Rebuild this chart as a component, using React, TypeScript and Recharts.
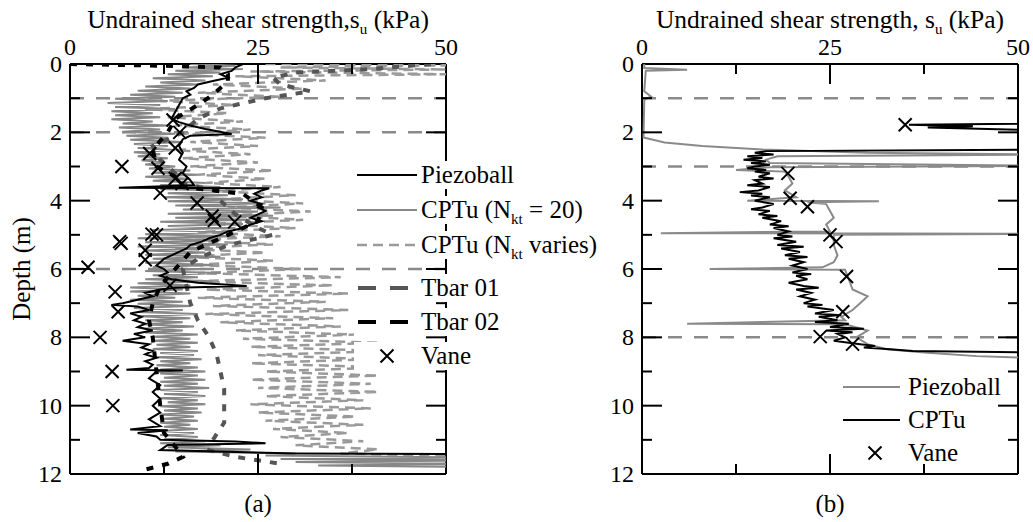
import React from 'react';
import { ScatterChart, Scatter, XAxis, YAxis, ReferenceLine } from 'recharts';

const FONT = "'Liberation Serif', 'Times New Roman', Times, serif";

// ---------- Panel (a) data: [depth (m), su (kPa)] ----------
const piezoA: [number, number][] = [
  [0.0, 23], [0.1, 22], [0.2, 21.5], [0.3, 20], [0.4, 21], [0.5, 19], [0.6, 17], [0.7, 16.5], [0.8, 15.5], [0.9, 16],
  [1.0, 15], [1.2, 14.5], [1.4, 14], [1.6, 13.5], [1.7, 14.5], [1.8, 16], [1.9, 18], [2.05, 21.5], [2.1, 16], [2.2, 15],
  [2.4, 14.5], [2.6, 15], [2.8, 14.5], [3.0, 15.5], [3.2, 15], [3.4, 16], [3.55, 16.5], [3.62, 6.5], [3.64, 26.5], [3.7, 25.5],
  [3.8, 24.5], [3.9, 25.5], [4.0, 24], [4.1, 25.5], [4.2, 25], [4.3, 26], [4.4, 25], [4.5, 24], [4.6, 25.5], [4.7, 24],
  [4.8, 23], [4.9, 21], [5.0, 20], [5.1, 18.5], [5.2, 17.5], [5.3, 16], [5.4, 15.5], [5.5, 14.5], [5.6, 13.5], [5.7, 12.5],
  [5.8, 12], [5.9, 11.5], [6.0, 12.5], [6.1, 13], [6.2, 12], [6.3, 13.5], [6.4, 17], [6.5, 23.5], [6.55, 14], [6.6, 12],
  [6.7, 10], [6.8, 11], [6.9, 9], [7.0, 7], [7.05, 5.5], [7.1, 9], [7.2, 10.5], [7.3, 8], [7.4, 9.5], [7.5, 8.5],
  [7.6, 10], [7.7, 9], [7.8, 11], [7.9, 8.5], [8.0, 10], [8.1, 7], [8.2, 10.5], [8.3, 9.5], [8.4, 11], [8.5, 10],
  [8.6, 11.5], [8.7, 10], [8.8, 11], [8.9, 10.5], [8.95, 7.5], [8.97, 15], [9.0, 11.5], [9.2, 10.5], [9.4, 12], [9.6, 11],
  [9.8, 12], [10.0, 11], [10.2, 12], [10.4, 10.5], [10.6, 12], [10.7, 8], [10.72, 13], [10.8, 9], [10.9, 11.5], [11.0, 12],
  [11.05, 22], [11.1, 26], [11.15, 13], [11.3, 12], [11.4, 30], [11.42, 55],
];

const cptu20A: [number, number][] = [
  [0.0, 16], [0.05, 22], [0.1, 15], [0.15, 23], [0.2, 14], [0.25, 20], [0.3, 13], [0.36, 19], [0.42, 11], [0.48, 18],
  [0.54, 12], [0.6, 17], [0.66, 10], [0.72, 16], [0.78, 9], [0.84, 15], [0.9, 8], [0.96, 14], [1.02, 6], [1.08, 13],
  [1.14, 5], [1.2, 12], [1.26, 6], [1.32, 14], [1.38, 5.5], [1.44, 11], [1.5, 6], [1.56, 12], [1.62, 5.5], [1.68, 11],
  [1.74, 7], [1.8, 13], [1.86, 6.5], [1.92, 12], [1.98, 7], [2.04, 14], [2.1, 7.5], [2.16, 13], [2.22, 8], [2.28, 15],
  [2.34, 8.5], [2.4, 13], [2.46, 9], [2.52, 14], [2.58, 8.5], [2.64, 12], [2.7, 9], [2.76, 13], [2.82, 9.5], [2.88, 12.5],
  [2.94, 10], [3.0, 14], [3.06, 10.5], [3.12, 16], [3.18, 11], [3.24, 17], [3.3, 10], [3.36, 16], [3.42, 11], [3.48, 18],
  [3.54, 12], [3.6, 20], [3.66, 12], [3.72, 22], [3.78, 13], [3.84, 21], [3.9, 12.5], [3.96, 23], [4.02, 13], [4.08, 26],
  [4.14, 14], [4.2, 28], [4.26, 15], [4.32, 25], [4.38, 13], [4.44, 27], [4.5, 14], [4.56, 24], [4.62, 12], [4.68, 23],
  [4.74, 13], [4.8, 22], [4.86, 11], [4.92, 21], [4.98, 10], [5.04, 22], [5.1, 9], [5.16, 20], [5.22, 10], [5.28, 21],
  [5.34, 9], [5.4, 19], [5.46, 10], [5.52, 18], [5.58, 10], [5.64, 20], [5.7, 11], [5.76, 17], [5.82, 10], [5.88, 19],
  [5.94, 11], [6.0, 18], [6.06, 10], [6.12, 20], [6.18, 11], [6.24, 17], [6.3, 10], [6.36, 19], [6.42, 9], [6.48, 16],
  [6.54, 8], [6.6, 15], [6.66, 8], [6.72, 16], [6.78, 9], [6.84, 14], [6.9, 8], [6.96, 15], [7.02, 9], [7.08, 16],
  [7.14, 8.5], [7.2, 15], [7.26, 9], [7.32, 17], [7.38, 9], [7.44, 16], [7.5, 10], [7.56, 15], [7.62, 9.5], [7.68, 16.5],
  [7.74, 10], [7.8, 15], [7.86, 10], [7.92, 17], [7.98, 11], [8.04, 16], [8.1, 11], [8.16, 17], [8.22, 11.5], [8.28, 16],
  [8.34, 11], [8.4, 17], [8.46, 12], [8.52, 16.5], [8.58, 11.5], [8.64, 17.5], [8.7, 12], [8.76, 16], [8.82, 11.5], [8.88, 17],
  [8.94, 12], [9.0, 18], [9.06, 12], [9.12, 17], [9.18, 12.5], [9.24, 18], [9.3, 12], [9.36, 17], [9.42, 12.5], [9.48, 18.5],
  [9.54, 12], [9.6, 17], [9.66, 12.5], [9.72, 18], [9.78, 12], [9.84, 17], [9.9, 13], [9.96, 18], [10.02, 12], [10.08, 17],
  [10.14, 12.5], [10.2, 17.5], [10.26, 12], [10.32, 16.5], [10.38, 12.5], [10.44, 17], [10.5, 12], [10.56, 16], [10.62, 12.5], [10.68, 17],
  [10.74, 12], [10.8, 16.5], [10.86, 12], [10.92, 17], [10.98, 12.5], [11.04, 18], [11.1, 12], [11.16, 20], [11.22, 13], [11.28, 24],
  [11.34, 14], [11.4, 30], [11.46, 26], [11.52, 55], [11.56, 28], [11.6, 55], [11.65, 30], [11.7, 55], [11.75, 33], [11.8, 55],
];

const cptuVarA: [number, number][] = [
  [0.0, 26], [0.04, 50], [0.1, 28], [0.16, 50], [0.22, 24], [0.3, 50], [0.36, 22], [0.48, 34], [0.6, 19], [0.72, 31],
  [0.84, 17], [0.96, 28], [1.08, 12], [1.2, 22], [1.32, 10], [1.44, 21], [1.56, 13], [1.68, 23], [1.8, 14], [1.92, 24],
  [2.04, 15], [2.16, 26], [2.28, 16], [2.4, 25], [2.52, 14], [2.64, 24], [2.76, 15], [2.88, 25], [3.0, 16], [3.12, 27],
  [3.24, 17], [3.36, 26], [3.48, 18], [3.6, 28], [3.72, 19], [3.84, 30], [3.96, 20], [4.08, 31], [4.2, 21], [4.32, 32],
  [4.44, 20], [4.56, 31], [4.68, 19], [4.8, 30], [4.92, 17], [5.04, 28], [5.16, 15], [5.28, 27], [5.4, 14], [5.52, 26],
  [5.64, 15], [5.76, 27], [5.88, 16], [6.0, 31], [6.12, 17], [6.24, 36], [6.36, 16], [6.48, 35], [6.6, 18], [6.72, 37],
  [6.84, 17], [6.96, 34], [7.08, 19], [7.2, 37], [7.32, 18], [7.44, 35], [7.56, 20], [7.68, 36], [7.8, 22], [7.92, 38],
  [8.04, 23], [8.16, 41], [8.28, 24], [8.4, 42], [8.52, 25], [8.64, 40], [8.76, 24], [8.88, 42], [9.0, 26], [9.12, 41],
  [9.24, 24], [9.36, 40], [9.48, 25], [9.6, 41], [9.72, 26], [9.84, 39], [9.96, 24], [10.08, 40], [10.2, 25], [10.32, 38],
  [10.44, 26], [10.56, 39], [10.68, 27], [10.8, 37], [10.92, 28], [11.04, 39], [11.16, 30], [11.28, 41], [11.4, 36], [11.5, 55],
];

const tbar01A: [number, number][] = [
  [0.0, 48], [0.15, 40], [0.25, 30], [0.4, 27], [0.6, 28], [0.8, 32], [1.0, 26], [1.3, 20], [1.6, 17], [2.0, 15],
  [2.4, 11], [2.8, 12], [3.2, 14], [3.5, 15], [3.7, 19.5], [4.0, 20], [4.4, 22], [4.8, 25], [5.0, 27], [5.3, 21],
  [5.7, 17], [6.0, 15], [6.5, 15.5], [7.0, 16], [7.5, 17], [8.0, 18.5], [8.5, 19.5], [9.0, 20], [9.5, 20.5], [10.0, 20.5],
  [10.5, 20.5], [11.0, 19], [11.3, 18.5], [11.5, 22], [11.7, 28],
];

const tbar02A: [number, number][] = [
  [0.0, 0], [0.05, 12], [0.1, 20], [0.3, 21], [0.5, 21], [0.7, 20], [0.9, 19], [1.2, 17], [1.6, 14], [2.0, 13],
  [2.5, 11], [3.0, 11.5], [3.3, 14], [3.6, 15], [3.8, 23], [4.2, 25.5], [4.6, 25], [5.0, 21], [5.5, 16], [6.0, 14],
  [6.5, 12], [7.0, 11], [7.5, 10.5], [8.0, 11], [9.0, 11.5], [10.0, 12], [10.8, 12.5], [11.2, 14], [11.5, 15], [11.7, 13],
  [11.9, 9.5],
];

const vaneA: [number, number][] = [
  [1.64, 13.7], [2.0, 14.6], [2.46, 14], [2.62, 10.6], [3.0, 6.9], [3.05, 11.7], [3.35, 14], [3.5, 14.9], [3.78, 12], [4.07, 16.9],
  [4.45, 18.9], [4.58, 19.2], [4.62, 21.9], [4.98, 10.9], [5.0, 11.5], [5.2, 6.6], [5.25, 6.8], [5.45, 10], [5.73, 10], [5.95, 2.4],
  [6.48, 13.3], [6.67, 6], [7.25, 6.4], [8.0, 4], [9.0, 5.6], [10.0, 5.7],
];

const layersA = [1, 2, 6];

// ---------- Panel (b) data ----------
const piezoB: [number, number][] = [
  [0.0, 0.3], [0.12, 0.3], [0.17, 6], [0.2, 0.5], [0.8, 0.3], [0.95, 1.2], [1.05, 0.3], [2.15, 0.2], [2.3, 3], [2.4, 8],
  [2.5, 16], [2.6, 30], [2.65, 55], [2.7, 18], [2.8, 16.5], [2.9, 17], [2.98, 55], [3.02, 17], [3.1, 12.5], [3.15, 19],
  [3.3, 19.5], [3.5, 20], [3.7, 19], [3.9, 20.5], [4.0, 14], [4.02, 31.5], [4.05, 22], [4.1, 24.5], [4.3, 25], [4.5, 25.5],
  [4.7, 24.5], [4.9, 25], [4.95, 2.5], [4.97, 55], [5.0, 25.5], [5.3, 25.5], [5.6, 26], [5.8, 25.5], [5.95, 24], [6.0, 9],
  [6.02, 27], [6.3, 27.5], [6.6, 28], [6.8, 30], [7.0, 29], [7.2, 28], [7.4, 26.5], [7.5, 27], [7.6, 6], [7.62, 27],
  [7.8, 30], [8.0, 28.5], [8.2, 30], [8.35, 32.5], [8.45, 38], [8.55, 44.5], [8.62, 55],
];

const cptuB: [number, number][] = [
  [1.7, 55], [1.75, 50], [1.78, 35.5], [1.82, 44], [1.86, 38], [1.9, 46], [1.95, 55], [2.5, 55], [2.55, 16.5], [2.6, 15],
  [2.65, 17.5], [2.7, 14], [2.75, 16], [2.8, 13.5], [2.85, 16.5], [2.9, 14.5], [2.95, 17], [3.0, 15], [3.05, 14], [3.1, 16.5],
  [3.15, 15], [3.2, 17], [3.3, 15.5], [3.35, 17.5], [3.4, 15], [3.5, 16], [3.55, 14], [3.6, 17], [3.7, 15.5], [3.75, 13],
  [3.8, 16], [3.85, 14.5], [3.9, 17], [4.0, 15], [4.1, 17.5], [4.2, 16], [4.25, 14.5], [4.3, 17], [4.4, 15.5], [4.45, 18],
  [4.5, 16], [4.6, 18.5], [4.7, 17], [4.75, 19.5], [4.8, 17.5], [4.9, 19.5], [5.0, 18], [5.05, 20], [5.1, 17.5], [5.2, 20.5],
  [5.3, 18], [5.35, 21.5], [5.4, 18.5], [5.5, 21], [5.6, 19], [5.65, 22], [5.7, 19.5], [5.8, 21.5], [5.9, 20], [6.0, 22],
  [6.1, 20], [6.15, 22.5], [6.2, 20.5], [6.3, 22], [6.4, 19.5], [6.5, 21.5], [6.55, 23.5], [6.6, 20.5], [6.7, 22.5], [6.8, 21],
  [6.9, 23], [7.0, 21.5], [7.05, 24], [7.1, 22], [7.2, 25.5], [7.3, 23], [7.35, 26.5], [7.4, 23.5], [7.5, 26], [7.55, 23],
  [7.6, 27.5], [7.7, 25], [7.75, 29.5], [7.8, 24.5], [7.85, 28], [7.9, 26], [8.0, 27], [8.1, 25.5], [8.2, 29], [8.25, 31],
  [8.3, 29.5], [8.35, 33], [8.4, 36], [8.45, 55],
];

const vaneB: [number, number][] = [
  [1.78, 35], [3.2, 19.4], [3.93, 19.7], [4.18, 22], [5.0, 25], [5.2, 25.8], [6.22, 27.2], [7.25, 26.7], [7.98, 23.7], [8.2, 28],
];

const layersB = [1, 3, 8];

// ---------- axes ----------
const depthTicks = [0, 1, 2, 3, 4, 5, 6, 7, 8, 9, 10, 11, 12];
const suTicks = [0, 12.5, 25, 37.5, 50];

const toPts = (arr: [number, number][]) => arr.map(([d, v]) => ({ d, v }));

const Empty = () => <g />;
const Cross = (props: any) => {
  const { cx, cy } = props;
  if (cx == null || cy == null) return <g />;
  const s = 6.5;
  return (
    <path d={`M${cx - s},${cy - s}L${cx + s},${cy + s}M${cx + s},${cy - s}L${cx - s},${cy + s}`} stroke="#000" strokeWidth={2} fill="none" />
  );
};

const TICK_FS = 24;

const mkTick = (side: 'left' | 'right' | 'top' | 'bottom') => (props: any) => {
  const { x, y, payload } = props;
  const v = payload.value;
  const isY = side === 'left' || side === 'right';
  const major = isY ? v % 2 === 0 : v % 25 === 0;
  const edge = isY ? v === 0 || v === 12 : v === 0 || v === 50;
  const len = major ? 20 : 10;
  let line: any = null;
  if (!edge) {
    if (side === 'left') line = <line x1={x} x2={x + len} y1={y} y2={y} stroke="#000" strokeWidth={2} />;
    if (side === 'right') line = <line x1={x} x2={x - len} y1={y} y2={y} stroke="#000" strokeWidth={2} />;
    if (side === 'top') line = <line x1={x} x2={x} y1={y} y2={y + len} stroke="#000" strokeWidth={2} />;
    if (side === 'bottom') line = <line x1={x} x2={x} y1={y} y2={y - len} stroke="#000" strokeWidth={2} />;
  }
  let label: any = null;
  if (side === 'left' && major) {
    label = (
      <text x={x - 8} y={y + 8} textAnchor="end" fontFamily={FONT} fontSize={TICK_FS} fill="#000">{v}</text>
    );
  }
  if (side === 'top' && major) {
    label = (
      <text x={x} y={y - 9} textAnchor="middle" fontFamily={FONT} fontSize={TICK_FS} fill="#000">{v}</text>
    );
  }
  return <g>{line}{label}</g>;
};

type Series = { data: [number, number][]; stroke?: string; width?: number; dash?: string; vane?: boolean };

function Panel({ left, width, margin, series, layers }: { left: number; width: number; margin: any; series: Series[]; layers: number[] }) {
  const axisLine = { stroke: '#000', strokeWidth: 2 };
  return (
    <div style={{ position: 'absolute', left, top: 0 }}>
      <ScatterChart width={width} height={522} margin={margin}>
        {layers.map((d) => (
          <ReferenceLine key={d} y={d} xAxisId="t" yAxisId="l" stroke="#8a8a8a" strokeWidth={2.5} strokeDasharray="14 12" />
        ))}
        {series.map((s, i) =>
          s.vane ? (
            <Scatter key={i} data={toPts(s.data)} xAxisId="t" yAxisId="l" isAnimationActive={false} shape={Cross} />
          ) : (
            <Scatter key={i} data={toPts(s.data)} xAxisId="t" yAxisId="l" isAnimationActive={false} shape={Empty}
              line={{ stroke: s.stroke, strokeWidth: s.width, strokeDasharray: s.dash, fill: 'none' }} lineType="joint" />
          )
        )}
        <XAxis xAxisId="t" orientation="top" type="number" dataKey="v" domain={[0, 50]} ticks={suTicks} interval={0}
          allowDataOverflow height={1} tickSize={0} tickMargin={0} tickLine={false} axisLine={axisLine} tick={mkTick('top')} />
        <XAxis xAxisId="b" orientation="bottom" type="number" dataKey="v" domain={[0, 50]} ticks={suTicks} interval={0}
          allowDataOverflow height={1} tickSize={0} tickMargin={0} tickLine={false} axisLine={axisLine} tick={mkTick('bottom')} />
        <YAxis yAxisId="l" orientation="left" type="number" dataKey="d" domain={[0, 12]} ticks={depthTicks} interval={0}
          reversed allowDataOverflow width={1} tickSize={0} tickMargin={0} tickLine={false} axisLine={axisLine} tick={mkTick('left')} />
        <YAxis yAxisId="r" orientation="right" type="number" dataKey="d" domain={[0, 12]} ticks={depthTicks} interval={0}
          reversed allowDataOverflow width={1} tickSize={0} tickMargin={0} tickLine={false} axisLine={axisLine} tick={mkTick('right')} />
      </ScatterChart>
    </div>
  );
}

const seriesA: Series[] = [
  { data: cptuVarA, stroke: '#9a9a9a', width: 2.5, dash: '10 6' },
  { data: cptu20A, stroke: '#878787', width: 2 },
  { data: tbar01A, stroke: '#555555', width: 4, dash: '7 9' },
  { data: tbar02A, stroke: '#000000', width: 4, dash: '7 9' },
  { data: piezoA, stroke: '#000000', width: 2 },
  { data: vaneA, vane: true },
];

const seriesB: Series[] = [
  { data: piezoB, stroke: '#8a8a8a', width: 2 },
  { data: cptuB, stroke: '#000000', width: 2 },
  { data: vaneB, vane: true },
];

const legendRowsA = [175, 210, 245, 288, 322, 356];
const legendRowsB = [387, 420, 453];

function Sub({ children }: { children: any }) {
  return <tspan dy={6} fontSize={15}>{children}</tspan>;
}

const LEG_FS = 25;

function Overlay() {
  const t = { fontFamily: FONT, fill: '#000' };
  const crossAt = (cx: number, cy: number) => (
    <path d={`M${cx - 6.5},${cy - 6.5}L${cx + 6.5},${cy + 6.5}M${cx + 6.5},${cy - 6.5}L${cx - 6.5},${cy + 6.5}`} stroke="#000" strokeWidth={2} />
  );
  const ra = legendRowsA;
  const rb = legendRowsB;
  return (
    <svg width={1033} height={522} style={{ position: 'absolute', left: 0, top: 0, pointerEvents: 'none' }}>
      {/* titles */}
      <text x={258} y={28} textAnchor="middle" fontSize={25.5} {...t}>
        Undrained shear strength,s<Sub>u</Sub><tspan dy={-6}> (kPa)</tspan>
      </text>
      <text x={830} y={28} textAnchor="middle" fontSize={25.5} {...t}>
        Undrained shear strength, s<Sub>u</Sub><tspan dy={-6}> (kPa)</tspan>
      </text>
      <text transform="translate(30,269) rotate(-90)" textAnchor="middle" fontSize={25} {...t}>Depth (m)</text>
      <text x={258} y={512} textAnchor="middle" fontSize={25} {...t}>(a)</text>
      <text x={830} y={512} textAnchor="middle" fontSize={25} {...t}>(b)</text>

      {/* legend (a) */}
      {ra.map((y) => (
        <rect key={y} x={354} y={y - 14} width={250} height={28} fill="#fff" />
      ))}
      <line x1={357} x2={417} y1={ra[0]} y2={ra[0]} stroke="#000" strokeWidth={2} />
      <line x1={357} x2={417} y1={ra[1]} y2={ra[1]} stroke="#878787" strokeWidth={2} />
      <line x1={357} x2={417} y1={ra[2]} y2={ra[2]} stroke="#9a9a9a" strokeWidth={2.5} strokeDasharray="10 6" />
      <line x1={358} x2={418} y1={ra[3]} y2={ra[3]} stroke="#555" strokeWidth={4} strokeDasharray="18 14" />
      <line x1={358} x2={418} y1={ra[4]} y2={ra[4]} stroke="#000" strokeWidth={4} strokeDasharray="18 14" />
      {crossAt(387, ra[5])}
      <text x={421} y={ra[0] + 8} fontSize={LEG_FS} {...t}>Piezoball</text>
      <text x={421} y={ra[1] + 8} fontSize={LEG_FS} {...t}>CPTu (N<Sub>kt</Sub><tspan dy={-6}> = 20)</tspan></text>
      <text x={421} y={ra[2] + 8} fontSize={LEG_FS} {...t}>CPTu (N<Sub>kt</Sub><tspan dy={-6}> varies)</tspan></text>
      <text x={421} y={ra[3] + 8} fontSize={LEG_FS} {...t}>Tbar 01</text>
      <text x={421} y={ra[4] + 8} fontSize={LEG_FS} {...t}>Tbar 02</text>
      <text x={421} y={ra[5] + 8} fontSize={LEG_FS} {...t}>Vane</text>

      {/* legend (b) */}
      <line x1={843} x2={900} y1={rb[0]} y2={rb[0]} stroke="#8a8a8a" strokeWidth={2} />
      <line x1={843} x2={900} y1={rb[1]} y2={rb[1]} stroke="#000" strokeWidth={2} />
      {crossAt(875, rb[2])}
      <text x={908} y={rb[0] + 8} fontSize={LEG_FS} {...t}>Piezoball</text>
      <text x={908} y={rb[1] + 8} fontSize={LEG_FS} {...t}>CPTu</text>
      <text x={908} y={rb[2] + 8} fontSize={LEG_FS} {...t}>Vane</text>
    </svg>
  );
}

export default function App() {
  return (
    <div style={{ position: 'absolute', left: 0, top: 0, width: 1033, height: 522, background: '#fff', fontFamily: FONT }}>
      <Panel left={0} width={520} margin={{ top: 63, right: 73, bottom: 47, left: 69 }} series={seriesA} layers={layersA} />
      <Panel left={520} width={513} margin={{ top: 63, right: 14, bottom: 47, left: 121 }} series={seriesB} layers={layersB} />
      <Overlay />
    </div>
  );
}
